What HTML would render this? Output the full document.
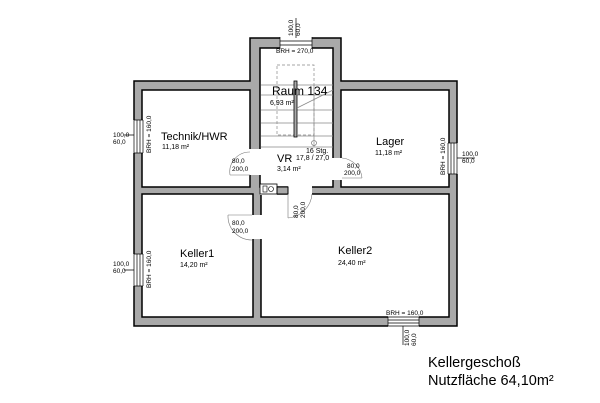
<!DOCTYPE html>
<html><head><meta charset="utf-8"><style>
html,body{margin:0;padding:0;background:#fff;width:600px;height:403px;overflow:hidden}
svg{display:block}
text{font-family:"Liberation Sans",sans-serif;fill:#000}
</style></head><body>
<svg width="600" height="403" viewBox="0 0 600 403">
<polygon points="134,81 250,81 250,38 341,38 341,81 457,81 457,326 134,326" fill="#a9a9a9" stroke="#000" stroke-width="1.5"/>
<g fill="#fff" stroke="#000" stroke-width="1.5">
<rect x="142" y="90" width="108" height="97"/>
<rect x="260" y="48" width="73" height="139"/>
<rect x="341" y="90" width="108" height="97"/>
<rect x="142" y="194" width="111" height="123"/>
<rect x="261" y="194" width="188" height="123"/>
</g>
<g fill="#fff">
<rect x="249" y="149" width="12" height="26"/>
<rect x="332" y="158" width="10" height="22"/>
<rect x="288" y="186" width="24" height="9"/>
<rect x="252" y="215" width="10" height="24"/>
<rect x="260" y="186" width="17" height="9"/>
<rect x="280" y="37" width="32" height="12"/>
<rect x="133" y="120" width="10" height="33"/>
<rect x="448" y="143" width="10" height="31"/>
<rect x="133" y="254" width="10" height="32"/>
<rect x="388" y="316" width="31" height="11"/>
</g>
<g stroke="#000" stroke-width="0.7" fill="none">
<path d="M280,37V49M312,37V49M280,41H312M280,45H312"/>
<path d="M134,120H143M134,153H143M137,120V153M140,120V153M134,120V153M143,120V153"/>
<path d="M448,143H457M448,174H457M451,143V174M454,143V174M448,143V174M457,143V174"/>
<path d="M134,254H143M134,286H143M137,254V286M140,254V286M134,254V286M143,254V286"/>
<path d="M388,317V326M419,317V326M388,320H419M388,323H419M388,317H419M388,326H419"/>
<path d="M296,18V38M124,135H134M457,158H475M124,270H134M403,326V345"/>
</g>
<rect x="260" y="184" width="17" height="10" fill="#fff" stroke="#000" stroke-width="0.8"/>
<rect x="263" y="186" width="4" height="6" fill="none" stroke="#000" stroke-width="0.6"/>
<circle cx="271" cy="189" r="2.5" fill="none" stroke="#000" stroke-width="0.6"/>
<rect x="277" y="187" width="11" height="7" fill="#a9a9a9" stroke="#000" stroke-width="1"/>
<g stroke="#888" stroke-width="0.7" fill="none">
<rect x="277" y="65" width="37" height="70" stroke-dasharray="3,2"/>
<path d="M261,85H333M261,95H333M261,110H333M261,123H333M261,136H333M261,147H333M314,85V147" />
</g>
<rect x="294" y="81" width="3" height="56" fill="#a9a9a9" stroke="#000" stroke-width="0.8"/>
<path d="M297,108L333,90" stroke="#888" stroke-width="0.7"/>
<circle cx="314" cy="143" r="2.5" fill="none" stroke="#666" stroke-width="0.6"/>
<g stroke="#777" stroke-width="0.6" fill="none">
<path d="M230,175 A20,20 0 0 1 250,152 M230,175H250"/>
<path d="M362,178 A22,22 0 0 0 342,158 M342,178H362"/>
<path d="M228,215 A24,24 0 0 0 252,240 M228,215H252"/>
<path d="M288,218 A26,26 0 0 0 312,194 M288,194V218"/>
</g>
<g font-size="6.5">
<text x="276" y="53">BRH = 270,0</text>
<text x="232" y="163">80,0</text><text x="232" y="171">200,0</text>
<text x="347" y="168">80,0</text><text x="344" y="175">200,0</text>
<text x="232" y="225">80,0</text><text x="232" y="233">200,0</text>
<text x="386" y="315">BRH = 160,0</text>
<text x="113" y="266">100,0</text><text x="113" y="273">60,0</text>
<text x="113" y="137">100,0</text><text x="113" y="144">60,0</text>
<text x="462" y="156">100,0</text><text x="462" y="163">60,0</text>
<text transform="translate(151,153) rotate(-90)">BRH = 160,0</text>
<text transform="translate(151,288) rotate(-90)">BRH = 160,0</text>
<text transform="translate(445,175) rotate(-90)">BRH = 160,0</text>
<text transform="translate(293,36) rotate(-90)">100,0</text><text transform="translate(300,36) rotate(-90)">60,0</text>
<text transform="translate(409,346) rotate(-90)">100,0</text><text transform="translate(416,346) rotate(-90)">60,0</text>
<text transform="translate(298,218) rotate(-90)">80,0</text><text transform="translate(305,218) rotate(-90)">200,0</text>
</g>
<g font-size="11">
<text x="272" y="95" font-size="12">Raum 134</text>
<text x="161" y="140">Technik/HWR</text>
<text x="376" y="145">Lager</text>
<text x="277" y="162">VR</text>
<text x="180" y="257">Keller1</text>
<text x="338" y="254">Keller2</text>
</g>
<g font-size="7">
<text x="270" y="105">6,93 m²</text>
<text x="162" y="149">11,18 m²</text>
<text x="375" y="155">11,18 m²</text>
<text x="306" y="153">16 Stg.</text>
<text x="296" y="160">17,8 / 27,0</text>
<text x="277" y="171">3,14 m²</text>
<text x="180" y="267">14,20 m²</text>
<text x="338" y="265">24,40 m²</text>
</g>
<text x="428" y="367" font-size="14.5">Kellergeschoß</text>
<text x="428" y="385" font-size="14.5">Nutzfläche 64,10m²</text>
</svg>
</body></html>
